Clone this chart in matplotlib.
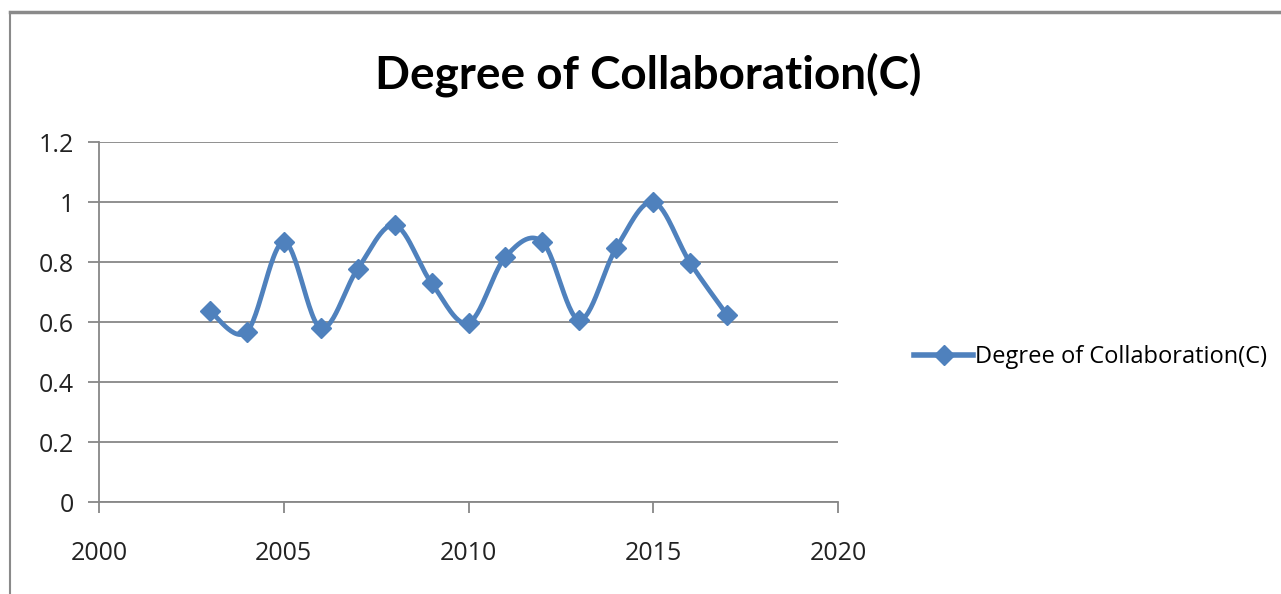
import numpy as np
import matplotlib
matplotlib.use("Agg")
import matplotlib.pyplot as plt
from matplotlib.lines import Line2D

years = [2003, 2004, 2005, 2006, 2007, 2008, 2009, 2010, 2011, 2012, 2013, 2014, 2015, 2016, 2017]
values = [0.637, 0.567, 0.867, 0.580, 0.777, 0.923, 0.730, 0.597, 0.817, 0.867, 0.607, 0.847, 1.000, 0.797, 0.623]
series_name = "Degree of Collaboration(C)"
title = "Degree of Collaboration(C)"
x_ticks = [2000, 2005, 2010, 2015, 2020]
y_ticks = [0, 0.2, 0.4, 0.6, 0.8, 1.0, 1.2]
y_labels = ["0", "0.2", "0.4", "0.6", "0.8", "1", "1.2"]

BLUE = "#4F81BD"
GRID = "#878787"


def smooth(xs, ys, n=30, t=0.5):
    xs = np.asarray(xs, float)
    ys = np.asarray(ys, float)
    px = np.concatenate([[xs[0]], xs, [xs[-1]]])
    py = np.concatenate([[ys[0]], ys, [ys[-1]]])
    ox, oy = [], []
    for i in range(1, len(px) - 2):
        p0 = np.array([px[i], py[i]])
        p3 = np.array([px[i + 1], py[i + 1]])
        m1 = (np.array([px[i + 1], py[i + 1]]) - np.array([px[i - 1], py[i - 1]])) * t / 3
        m2 = (np.array([px[i + 2], py[i + 2]]) - np.array([px[i], py[i]])) * t / 3
        c1 = p0 + m1
        c2 = p3 - m2
        s = np.linspace(0, 1, n)[:, None]
        b = (1 - s) ** 3 * p0 + 3 * (1 - s) ** 2 * s * c1 + 3 * (1 - s) * s ** 2 * c2 + s ** 3 * p3
        ox.extend(b[:, 0])
        oy.extend(b[:, 1])
    return np.array(ox), np.array(oy)


fig = plt.figure(figsize=(12.81, 5.94), dpi=100)
ax = fig.add_axes([99 / 1281, 1 - 502 / 594, (838 - 99) / 1281, (502 - 142) / 594])

sx, sy = smooth(years, values)
ax.plot(sx, sy, color=BLUE, lw=3.4, solid_capstyle="round", zorder=3)
ax.plot(years, values, linestyle="none", marker="D", markersize=10, color=BLUE, zorder=4)

ax.set_xlim(2000, 2020)
ax.set_ylim(0, 1.2)
ax.set_xticks(x_ticks)
ax.set_yticks(y_ticks)
ax.set_yticklabels(y_labels)
ax.grid(axis="y", color=GRID, lw=1.3)
ax.set_axisbelow(True)
for s in ["top", "right"]:
    ax.spines[s].set_visible(False)
for s in ["left", "bottom"]:
    ax.spines[s].set_color(GRID)
    ax.spines[s].set_linewidth(1.3)
ax.tick_params(axis="both", colors=GRID, length=8, width=1.3)
ax.tick_params(axis="y", labelcolor="#222222", labelsize=18, pad=10)
ax.tick_params(axis="x", labelcolor="#222222", labelsize=18, pad=20)
for lab in ax.get_xticklabels() + ax.get_yticklabels():
    lab.set_family("Open Sans")

fig.text(648 / 1281, 1 - 75 / 594, title, ha="center", va="center",
         fontsize=33, fontweight="bold", family="Lato")

handle = Line2D([], [], color=BLUE, lw=4, marker="D", markersize=10)
fig.legend([handle], [series_name], loc="center left", bbox_to_anchor=(905 / 1281, 1 - 357 / 594),
           frameon=False, prop={"family": "Open Sans", "size": 17}, handlelength=2.5,
           handletextpad=0.05, borderaxespad=0)

# outer chart frame
fig.add_artist(Line2D([10 / 1281, 1], [1 - 12 / 594, 1 - 12 / 594], color="#8a8a8a", lw=2.5,
                      transform=fig.transFigure))
fig.add_artist(Line2D([10 / 1281, 10 / 1281], [0, 1 - 12 / 594], color="#8a8a8a", lw=1.5,
                      transform=fig.transFigure))

fig.savefig("out.png", dpi=100)
